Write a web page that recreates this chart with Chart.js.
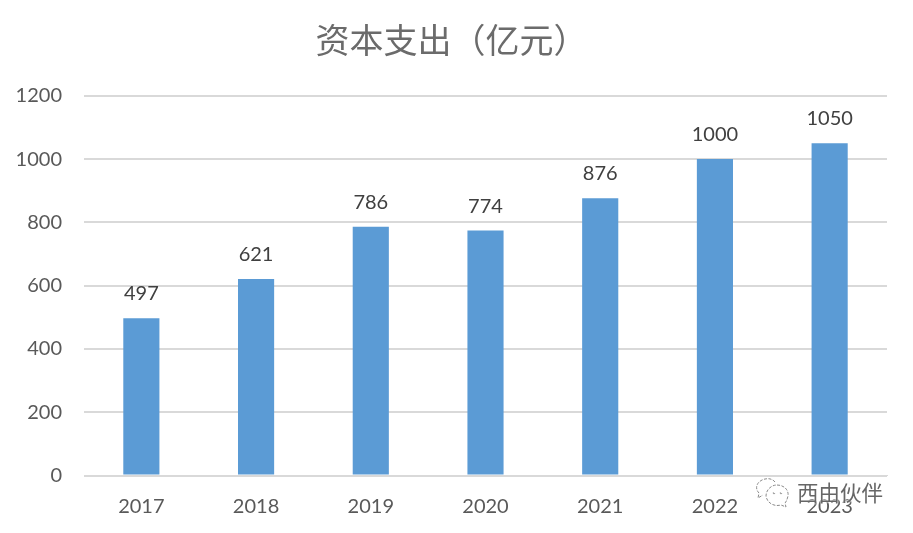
<!DOCTYPE html>
<html><head><meta charset="utf-8">
<script src="https://cdn.jsdelivr.net/npm/chart.js@4"></script>
<style>html,body{margin:0;padding:0;background:#fff}#w{position:relative;width:913px;height:533px}
canvas{display:block}
#mark{position:absolute;left:797px;top:477px;font:21.5px/30px "Noto Sans CJK SC";color:#666;text-shadow:0 0 2px #fff,0 0 2px #fff}
#ico{position:absolute;left:753px;top:476px}
</style></head><body><div id="w"><canvas id="c" width="913" height="533"></canvas>
<svg id="ico" width="38" height="34" viewBox="0 0 38 34" fill="none" stroke="#8a8a8a" stroke-width="1" stroke-dasharray="3 1.5">
<path d="M22 6C19 2 13 2 9 4C3 7 2 13 6 17L5 22L10 19"/>
<path d="M24 9C31 9 36 14 35 20C34 24 33 26 32 27L33 31L28 29C21 31 14 27 13 20C13 14 18 9 24 9Z"/>
<circle cx="21" cy="17" r=".8"/><circle cx="28" cy="17" r=".8"/></svg>
<div id="mark">西由伙伴</div></div>
<script>
const categories=["2017","2018","2019","2020","2021","2022","2023"];
const capex=[497,621,786,774,876,1000,1050];
const yTicks=[0,200,400,600,800,1000,1200];
const titleText="资本支出（亿元）";
const labelPlugin={id:'labels',afterDatasetsDraw(ch){const {ctx}=ch;const m=ch.getDatasetMeta(0);ctx.save();ctx.font='20px Lato';ctx.fillStyle='#404040';ctx.textAlign='center';ctx.textBaseline='alphabetic';
m.data.forEach((b,i)=>ctx.fillText(String(capex[i]),b.x,b.y-18));ctx.restore();}};
new Chart(document.getElementById('c'),{type:'bar',data:{labels:categories,datasets:[{data:capex,backgroundColor:'#5B9BD5',barPercentage:0.315,categoryPercentage:1}]},
plugins:[labelPlugin],
options:{responsive:false,animation:false,devicePixelRatio:1,
layout:{padding:{left:16,right:26,top:0,bottom:3.5}},
plugins:{legend:{display:false},tooltip:{enabled:false},title:{display:true,text:titleText,color:'#6b6b6b',font:{family:'"Noto Sans CJK SC"',size:34,weight:'normal'},padding:{top:20,bottom:35}}},
scales:{x:{grid:{display:false},border:{color:'#D9D9D9'},ticks:{color:'#595959',font:{family:'Lato',size:20},padding:11}},
y:{min:0,max:1200,afterBuildTicks(a){a.ticks=yTicks.map(v=>({value:v}))},afterFit(a){a.width=68},grid:{color:'#D9D9D9',lineWidth:2,drawTicks:false},border:{display:false},ticks:{color:'#595959',font:{family:'Lato',size:20},padding:22,callback:v=>String(v)}}}}});
</script></body></html>
